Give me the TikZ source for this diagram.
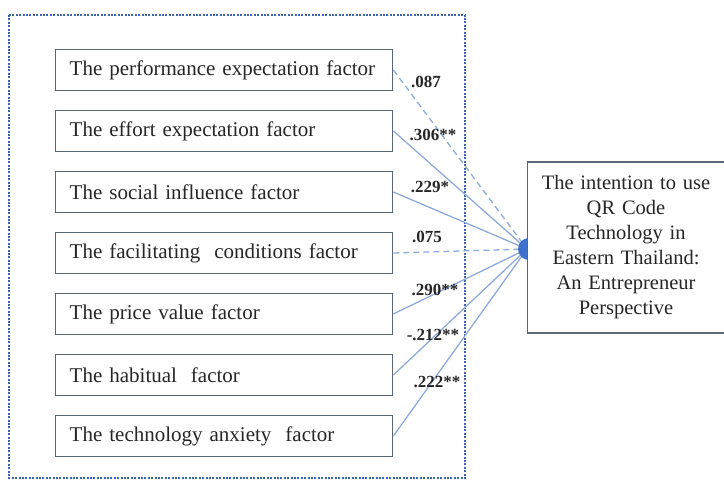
\documentclass[tikz,border=0pt]{standalone}
\usepackage{fontspec}
\setmainfont{Liberation Serif}
\usetikzlibrary{calc,positioning}
\definecolor{frame}{HTML}{3C64B0}
\definecolor{edge}{HTML}{8EAADB}
\definecolor{slate}{HTML}{5B6676}
\definecolor{ink}{HTML}{262626}
\definecolor{hubc}{HTML}{3F72CC}
\tikzset{
  every node/.style={text=ink},
  fac/.style={draw=slate,line width=1.4pt,fill=white,anchor=west,minimum width=337pt,minimum height=41pt,
    text width=309pt,inner xsep=14pt,align=left,font=\fontsize{21}{24}\selectfont},
  goal/.style={draw=slate,line width=1.4pt,fill=white,anchor=west,minimum width=195pt,minimum height=171pt,
    text width=190pt,align=center,font=\fontsize{20.5}{25}\selectfont},
  coef/.style={font=\bfseries\fontsize{17}{19}\selectfont},
  link/.style={edge,line width=1.3pt},
  weak/.style={link,dash pattern=on 6pt off 4pt},
}
\begin{document}
\begin{tikzpicture}[x=1pt,y=-1pt]
  \useasboundingbox (0,0) rectangle (724,480);
  \draw[frame,line width=1.6pt,dash pattern=on 2pt off 1.4pt] (9,15) rectangle (465,478);
  % factors
  \foreach \n/\y/\t in {f1/70/The performance expectation factor,
                        f2/131/The effort expectation factor,
                        f3/192/The social influence factor,
                        f4/253/The facilitating\ \ conditions factor,
                        f5/314/The price value factor,
                        f6/375/The habitual\ \ factor,
                        f7/436/The technology anxiety\ \ factor}
    \node[fac] (\n) at (55,\y) {\t};
  \coordinate (hub) at (527,249);
  \draw[weak] (f1.east) -- (hub);
  \draw[link] (f2.east) -- (hub);
  \draw[link] (f3.east) -- (hub);
  \draw[weak] (f4.east) -- (hub);
  \draw[link] (f5.east) -- (hub);
  \draw[link] (f6.east) -- (hub);
  \draw[link] (f7.east) -- (hub);
  \fill[hubc] ($(hub)+(2,0)$) circle (11pt);
  % outcome box covers half of the hub
  \node[goal] (intent) at (527,247.5) {The intention to use\\QR Code\\Technology in\\Eastern Thailand:\\An Entrepreneur\\Perspective};
  % path coefficients
  \node[coef] (c1) at (426,82) {.087};
  \node[coef] (c2) at (433,135) {.306**};
  \node[coef] (c3) at (430,187) {.229*};
  \node[coef] (c4) at (427,237) {.075};
  \node[coef] (c5) at (435,290) {.290**};
  \node[coef] (c6) at (433,335) {-.212**};
  \node[coef] (c7) at (437,382) {.222**};
\end{tikzpicture}
\end{document}
